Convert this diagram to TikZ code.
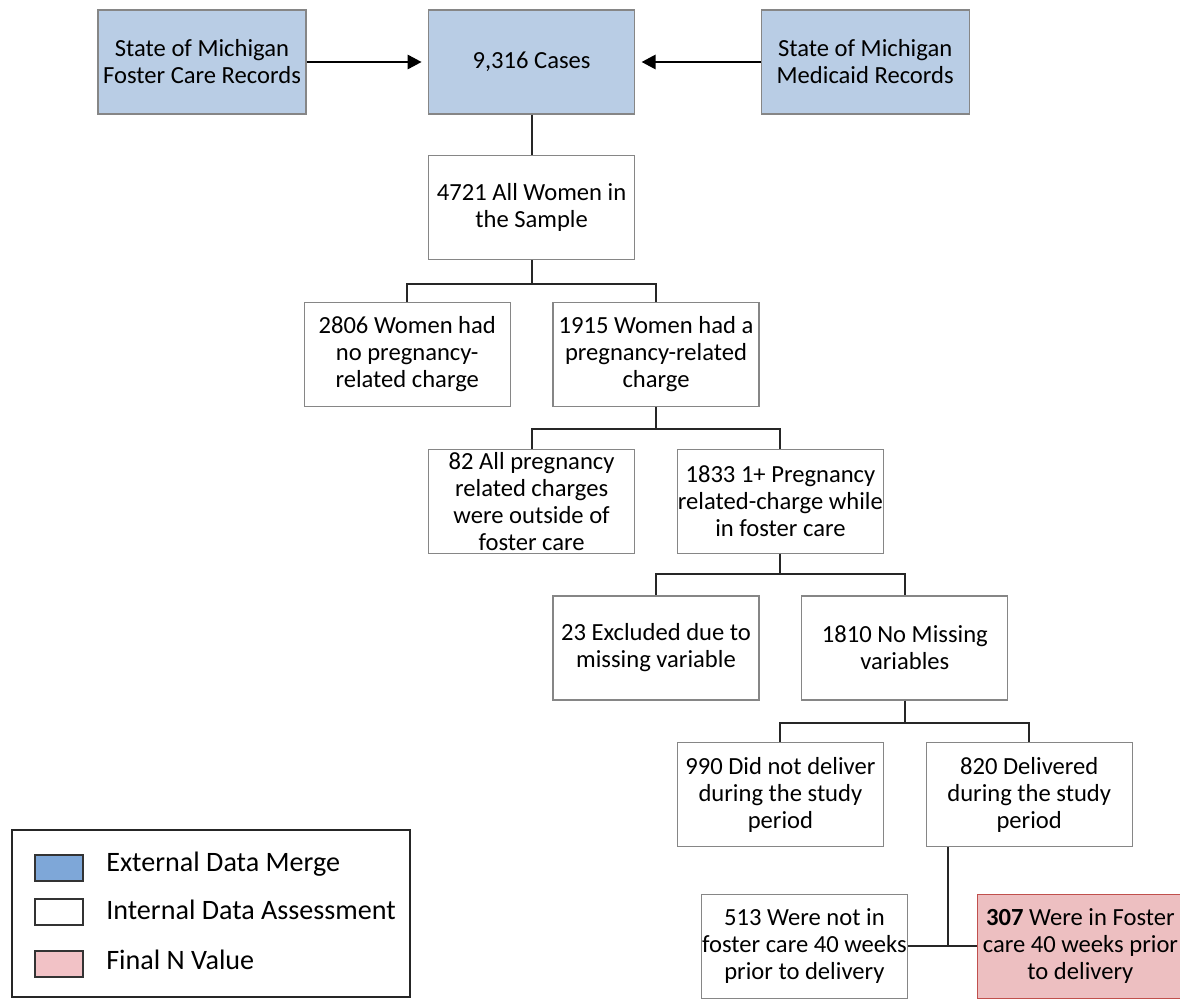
\documentclass[tikz,border=0pt]{standalone}
\usepackage{fontspec}
\setmainfont{Carlito}
\usetikzlibrary{shapes, arrows.meta, positioning}

\definecolor{mergeblue}{HTML}{B9CDE5}
\definecolor{swatchblue}{HTML}{7EA7D8}
\definecolor{finalpink}{HTML}{EDBFC1}
\definecolor{swatchpink}{HTML}{F2C2C6}
\definecolor{finalred}{HTML}{C0504D}
\definecolor{boxgray}{HTML}{868686}

\begin{document}
\begin{tikzpicture}[node distance=3.67cm and 3.11cm, on grid,
		box/.style={rectangle, draw=boxgray, line width=0.9pt, minimum width=5.15cm, minimum height=2.6cm, inner sep=0pt, align=center, font=\fontsize{17.5}{19.2}\selectfont},
		extbox/.style={box, fill=mergeblue},
		intbox/.style={box, fill=white},
		finalbox/.style={box, fill=finalpink, draw=finalred, line width=1.2pt},
		conn/.style={draw=black!85, line width=1.4pt},
		arr/.style={conn, draw=black, -{Triangle[length=3.5mm,width=3.6mm]}, shorten >=0.16cm},
		swatch/.style={rectangle, draw=black!80, line width=1.1pt, minimum width=1.2cm, minimum height=0.65cm, inner sep=0pt},
		legtext/.style={anchor=west, inner sep=0pt, font=\fontsize{20}{24}\selectfont}]
		\useasboundingbox (0,0) rectangle (29.5,-24.975);

		% data sources
		\node[extbox] (cases) at (13.29,-1.55) {9,316 Cases};
		\node[extbox, minimum width=5.2cm] (fc) [left=8.24cm of cases] {State of Michigan\\Foster Care Records};
		\node[extbox, minimum width=5.2cm] (med) [right=8.34cm of cases] {State of Michigan\\Medicaid Records};
		\node[intbox] (allw) [below=3.64cm of cases] {4721 All Women in\\the Sample};

		% splits
		\node[intbox] (nopreg) [below left=of allw] {2806 Women had\\no pregnancy-\\related charge};
		\node[intbox] (preg) [below right=of allw] {1915 Women had a\\pregnancy-related\\charge};
		\node[intbox] (n82) [below left=of preg] {82 All pregnancy\\related charges\\were outside of\\foster care};
		\node[intbox] (n1833) [below right=of preg] {1833 1+ Pregnancy\\related-charge while\\in foster care};
		\node[intbox] (n23) [below left=of n1833] {23 Excluded due to\\missing variable};
		\node[intbox] (n1810) [below right=of n1833] {1810 No Missing\\variables};
		\node[intbox] (n990) [below left=of n1810] {990 Did not deliver\\during the study\\period};
		\node[intbox] (n820) [below right=of n1810] {820 Delivered\\during the study\\period};
		\node[intbox] (n513) [below right=3.79cm and 0.6cm of n990] {513 Were not in\\foster care 40 weeks\\prior to delivery};
		\node[finalbox] (n307) [right=6.9cm of n513] {\textbf{307} Were in Foster\\care 40 weeks prior\\to delivery};
		\coordinate[right=1.0cm of n513.east] (split);

		\draw[arr] (fc.east) -- (cases.west);
		\draw[arr] (med.west) -- (cases.east);
		\draw[conn] (cases.south) -- (allw.north);
		\draw[conn] (allw.south) -- ++(0,-0.6) -| (nopreg.north);
		\draw[conn] (allw.south) -- ++(0,-0.6) -| (preg.north);
		\draw[conn] (preg.south) -- ++(0,-0.55) -| (n82.north);
		\draw[conn] (preg.south) -- ++(0,-0.55) -| (n1833.north);
		\draw[conn] (n1833.south) -- ++(0,-0.5) -| (n23.north);
		\draw[conn] (n1833.south) -- ++(0,-0.5) -| (n1810.north);
		\draw[conn] (n1810.south) -- ++(0,-0.55) -| (n990.north);
		\draw[conn] (n1810.south) -- ++(0,-0.55) -| (n820.north);
		\draw[conn] (n513.east) -- (n307.west);
		\draw[conn] (n820.south -| split) -- (split);

		% legend
		\node[draw=black!85, line width=1.1pt, minimum width=9.95cm, minimum height=4.175cm, inner sep=0pt] (legend) at (5.275,-22.84) {};
		\node[swatch, fill=swatchblue] (sw1) at (1.475,-21.7) {};
		\node[swatch, fill=white] (sw2) at (1.475,-22.8) {};
		\node[swatch, fill=swatchpink] (sw3) at (1.475,-24.1) {};
		\node[legtext] (lg1) at (2.65,-21.6) {External Data Merge};
		\node[legtext] (lg2) at (2.65,-22.75) {Internal Data Assessment};
		\node[legtext] (lg3) at (2.65,-24.0) {Final N Value};
\end{tikzpicture}
\end{document}
